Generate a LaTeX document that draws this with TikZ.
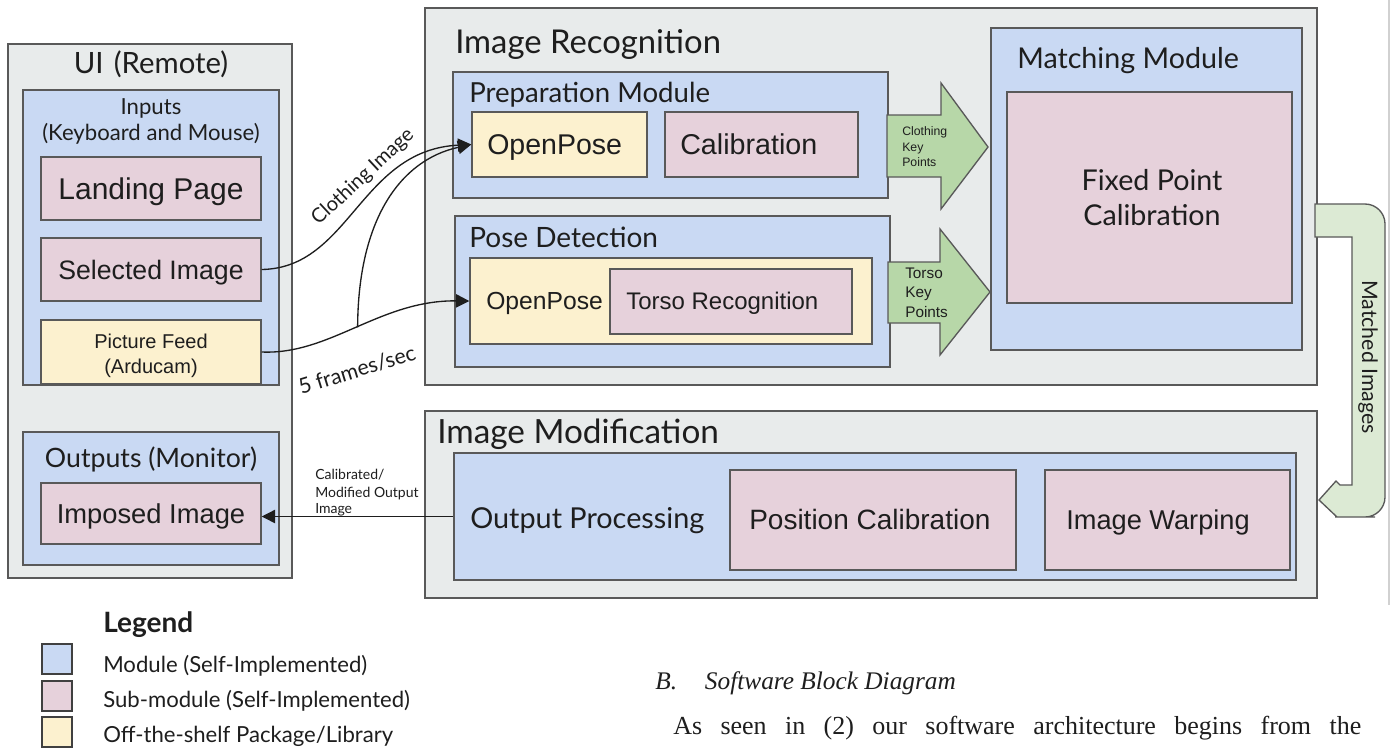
\documentclass[tikz,border=0pt]{standalone}
\usepackage{fontspec}
\setmainfont{Liberation Serif}
\newfontfamily\lato{Lato}
\newfontfamily\arial{Liberation Sans}
\usetikzlibrary{arrows.meta,fit}

\definecolor{panelgray}{HTML}{E8EBEB}
\definecolor{modblue}{HTML}{C9D9F3}
\definecolor{subpink}{HTML}{E6D1DB}
\definecolor{pkgyellow}{HTML}{FCF1CF}
\definecolor{keygreen}{HTML}{B7D7A8}
\definecolor{bandgreen}{HTML}{DCEAD4}
\definecolor{edge}{HTML}{595959}
\definecolor{ink}{HTML}{1E1E1E}

\newcommand{\fs}[2]{\fontsize{#1}{#2}\selectfont}

\tikzset{
  boxbase/.style={draw=edge, line width=1.1pt, inner sep=0pt, text=ink},
  panel/.style={boxbase, fill=panelgray},
  modbox/.style={boxbase, fill=modblue},
  subbox/.style={boxbase, fill=subpink},
  pkgbox/.style={boxbase, fill=pkgyellow},
  keyarrow/.style={draw=edge, line width=1pt, fill=keygreen},
  bandarrow/.style={draw=edge, line width=1pt, fill=bandgreen},
  lbl/.style={inner sep=0pt, anchor=base west, text=ink},
  clbl/.style={inner sep=0pt, anchor=base, text=ink},
  conn/.style={draw=ink, line width=1pt, -{Triangle[length=10pt,width=10pt]}},
  legbox/.style={draw=ink!85, line width=1.3pt, inner sep=0pt}
}

\begin{document}
\begin{tikzpicture}[x=0.75pt,y=-0.75pt]
\useasboundingbox (0,0) rectangle (1394,751);
\fill[white] (0,0) rectangle (1394,751);

% ---------- UI (remote) ----------
\node[panel, fit={(8,44) (292,578)}] (ui) {};
\node[clbl, font=\lato\fs{22pt}{25pt}] (uiT) at (151,73) {UI\hspace{0.35em}(Remote)};
\node[modbox, fit={(23,90) (279,385)}] (inputs) {};
\node[clbl, font=\lato\fs{16.6pt}{19pt}] (inputsA) at (151,114) {Inputs};
\node[clbl, font=\lato\fs{16.6pt}{19pt}] (inputsB) at (151,140) {(Keyboard and Mouse)};
\node[subbox, fit={(41,157) (261,220)}] (landing) {};
\node[clbl, font=\arial\fs{22.5pt}{26pt}] (landingT) at (151,199) {Landing Page};
\node[subbox, fit={(41,238) (261,301)}] (sel) {};
\node[clbl, font=\arial\fs{20pt}{24pt}] (selT) at (151,279) {Selected Image};
\node[pkgbox, fit={(41,320) (261,384)}] (feed) {};
\node[clbl, font=\arial\fs{15pt}{18pt}] (feedA) at (151,348) {Picture Feed};
\node[clbl, font=\arial\fs{15pt}{18pt}] (feedB) at (151,373) {(Arducam)};
\node[modbox, fit={(23,432) (279,565)}] (outputs) {};
\node[clbl, font=\lato\fs{20pt}{24pt}] (outputsT) at (151,467) {Outputs (Monitor)};
\node[subbox, fit={(41,483) (261,544)}] (imposed) {};
\node[clbl, font=\arial\fs{20.5pt}{24pt}] (imposedT) at (151,523) {Imposed Image};

% ---------- Image recognition ----------
\node[panel, fit={(425,8) (1317,385)}] (imgrec) {};
\node[lbl, font=\lato\fs{24.6pt}{28pt}] (imgrecT) at (455,53) {Image Recognition};

\node[modbox, fit={(453,72) (888,198)}] (prep) {};
\node[lbl, font=\lato\fs{20.7pt}{24pt}] (prepT) at (469,102) {Preparation Module};
\node[pkgbox, fit={(472,112) (647,177)}] (op1) {};
\node[lbl, font=\arial\fs{21.4pt}{25pt}] (op1T) at (487,154) {OpenPose};
\node[subbox, fit={(665,112) (858,177)}] (calib) {};
\node[lbl, font=\arial\fs{21.5pt}{25pt}] (calibT) at (680,154) {Calibration};

\node[modbox, fit={(455,216) (890,367)}] (pose) {};
\node[lbl, font=\lato\fs{21pt}{24pt}] (poseT) at (469,247) {Pose Detection};
\node[pkgbox, fit={(470,258) (872,344)}] (op2) {};
\node[lbl, font=\arial\fs{18.5pt}{22pt}] (op2T) at (486,309) {OpenPose};
\node[subbox, fit={(610,269) (852,334)}] (torso) {};
\node[lbl, font=\arial\fs{18pt}{22pt}] (torsoT) at (626,309) {Torso Recognition};

\node[modbox, fit={(991,28) (1302,350)}] (match) {};
\node[lbl, font=\lato\fs{21.5pt}{25pt}] (matchT) at (1017,68) {Matching Module};
\node[subbox, fit={(1007,92) (1292,303)}] (fixed) {};
\node[clbl, font=\lato\fs{21.5pt}{25pt}] (fixedA) at (1152,190) {Fixed Point};
\node[clbl, font=\lato\fs{21.5pt}{25pt}] (fixedB) at (1152,225) {Calibration};

% key-point block arrows
\draw[keyarrow] (887,115) -- (941,115) -- (941,83) -- (988,147) -- (941,209) -- (941,177) -- (887,177) -- cycle;
\node[lbl, font=\arial\fs{9.2pt}{11pt}] (ckA) at (902,135) {Clothing};
\node[lbl, font=\arial\fs{9.2pt}{11pt}] (ckB) at (902,151) {Key};
\node[lbl, font=\arial\fs{9.2pt}{11pt}] (ckC) at (902,166) {Points};
\draw[keyarrow] (888,262) -- (940,262) -- (940,229) -- (990,292) -- (940,355) -- (940,323) -- (888,323) -- cycle;
\node[lbl, font=\arial\fs{11.5pt}{14pt}] (tkA) at (905,278) {Torso};
\node[lbl, font=\arial\fs{11.5pt}{14pt}] (tkB) at (905,297) {Key};
\node[lbl, font=\arial\fs{11.5pt}{14pt}] (tkC) at (905,317) {Points};

% ---------- Image modification ----------
\node[panel, fit={(425,411) (1317,598)}] (imgmod) {};
\node[lbl, font=\lato\fs{25pt}{29pt}] (imgmodT) at (437,443) {Image Modification};
\node[modbox, fit={(454,453) (1296,580)}] (outproc) {};
\node[lbl, font=\lato\fs{21.6pt}{25pt}] (outprocT) at (470,528) {Output Processing};
\node[subbox, fit={(730,470) (1016,570)}] (poscal) {};
\node[lbl, font=\arial\fs{21pt}{25pt}] (poscalT) at (749,529) {Position Calibration};
\node[subbox, fit={(1045,470) (1290,570)}] (warp) {};
\node[lbl, font=\arial\fs{20.4pt}{24pt}] (warpT) at (1066,529) {Image Warping};

% matched-images return arrow
\draw[bandarrow] (1315,204) -- (1340,204)
  {[rounded corners=15pt] -- (1385,204) -- (1385,517) -- (1355,517)}
  -- (1337,517) -- (1319,500) -- (1336,481) -- (1340,485) -- (1352,485)
  -- (1352,237) -- (1315,237) -- cycle;
\node[inner sep=0pt, rotate=-90, text=ink, font=\lato\fs{16pt}{19pt}] (matchedT) at (1368,357) {Matched Images};

% page edge
\draw[line width=1.4pt, draw=black!18] (1389,0) -- (1389,605);

% ---------- data flow connectors ----------
\draw[conn] (sel.east) .. controls (350,268) and (360,150) .. (op1.west);
\node[inner sep=0pt, rotate=43, text=ink, font=\lato\fs{15pt}{17pt}] (clothT) at (363,177) {Clothing Image};
\draw[conn] (feed.east) .. controls (330,355) and (380,300) .. (op2.west) coordinate[pos=0.5] (split);
\draw[conn] (split) .. controls (358,220) and (400,160) .. (op1.west);
\node[inner sep=0pt, rotate=17, text=ink, font=\lato\fs{16pt}{18pt}] (fpsT) at (357,370) {5 frames/sec};
\draw[conn] (outproc.west) -- (outproc.west -| imposed.east);
\node[lbl, font=\lato\fs{10.5pt}{12pt}] (calA) at (315,479) {Calibrated/};
\node[lbl, font=\lato\fs{10.5pt}{12pt}] (calB) at (315,497) {Modified Output};
\node[lbl, font=\lato\fs{10.5pt}{12pt}] (calC) at (315,513) {Image};

% ---------- legend ----------
\node[lbl, font=\lato\bfseries\fs{21pt}{24pt}] (legT) at (103,632) {Legend};
\node[legbox, fill=modblue, fit={(42,644) (72,674)}] (legA) {};
\node[legbox, fill=subpink, fit={(42,681) (72,711)}] (legB) {};
\node[legbox, fill=pkgyellow, fit={(42,717) (72,747)}] (legC) {};
\node[lbl, font=\lato\fs{16.6pt}{20pt}] (legAT) at (103,672) {Module (Self-Implemented)};
\node[lbl, font=\lato\fs{16.6pt}{20pt}] (legBT) at (103,707) {Sub-module (Self-Implemented)};
\node[lbl, font=\lato\fs{16.6pt}{20pt}] (legCT) at (103,742) {Off-the-shelf Package/Library};

% ---------- caption text ----------
\node[lbl, font=\itshape\fs{19pt}{22pt}] (secT) at (655,689) {B.\hspace{1.1em}Software Block Diagram};
\node[lbl, font=\fs{19.5pt}{22pt}] (bodyT) at (673,734) {\makebox[516pt][s]{As seen in (2) our software architecture begins from the}};
\end{tikzpicture}
\end{document}
